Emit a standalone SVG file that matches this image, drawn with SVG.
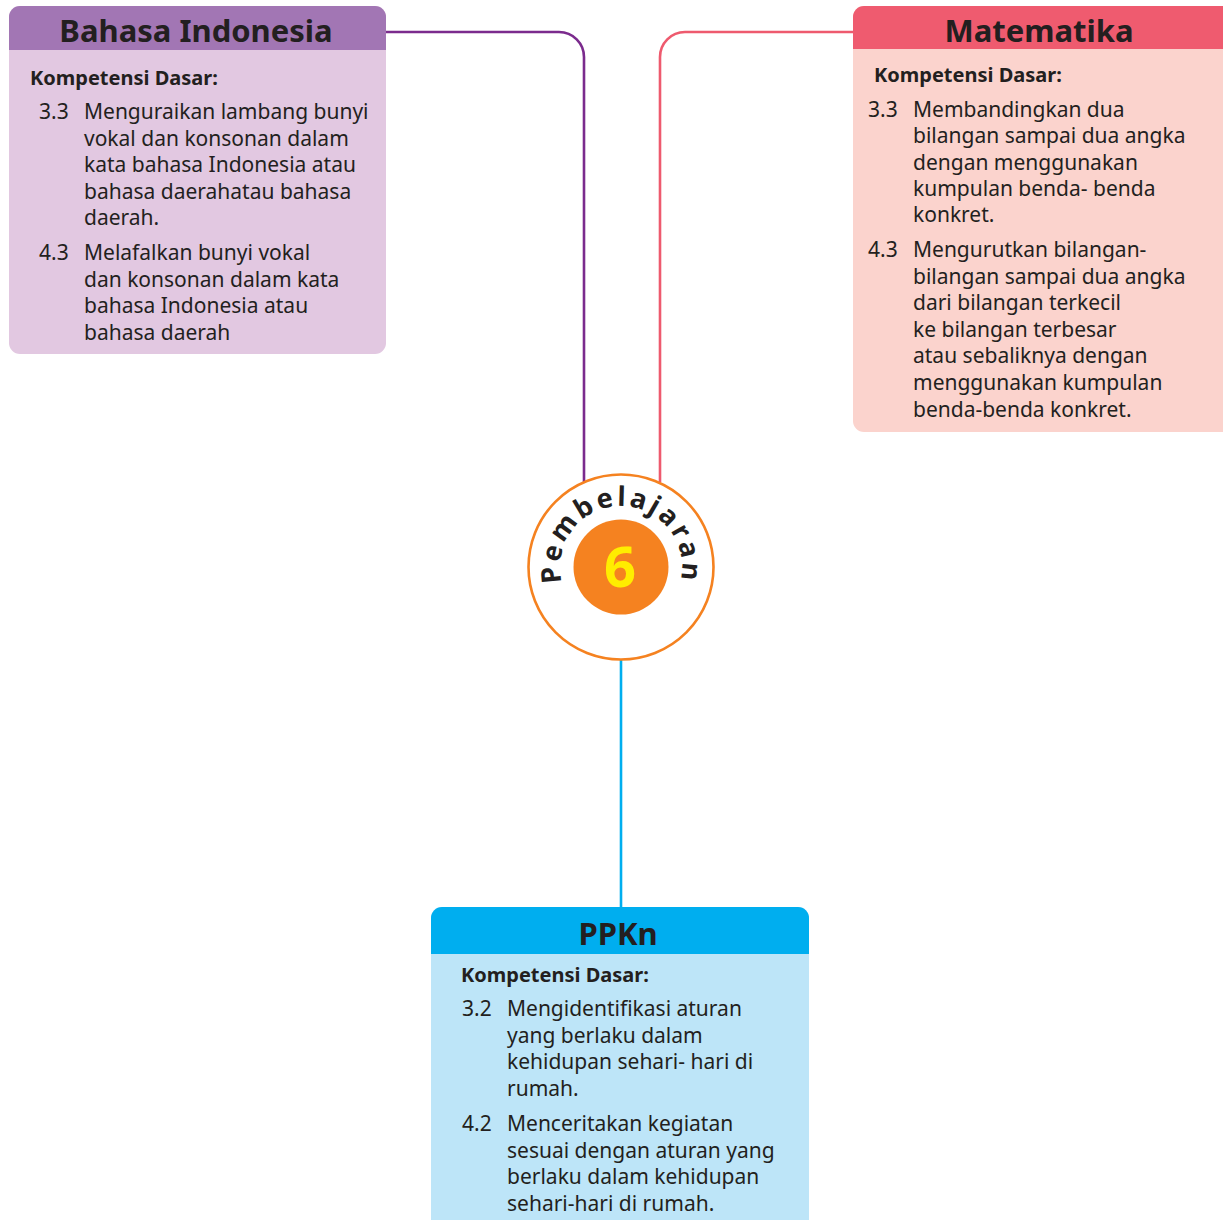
<svg xmlns="http://www.w3.org/2000/svg" width="1223" height="1220" viewBox="0 0 1223 1220">
<style>
.hdr{font-family:"Noto Sans","Open Sans",sans-serif;font-weight:700;font-size:31px;fill:#231F20;text-anchor:middle}
.kd{font-family:"Noto Sans","Open Sans",sans-serif;font-weight:700;font-size:20px;fill:#231F20}
.it{font-family:"Noto Sans","Open Sans",sans-serif;font-size:21px;fill:#231F20}
.conn{fill:none;stroke-width:2.6}
</style>
<defs>
<path id="arc" d="M 563.7 587.9 A 61 61 0 1 1 678.3 587.9"/>
</defs>
<rect width="1223" height="1220" fill="#ffffff"/>

<g id="connectors">
<path class="conn" stroke="#7B2B8D" d="M 386 32 H 559 A 25 25 0 0 1 584 57 V 482"/>
<path class="conn" stroke="#EE5A6E" d="M 853 32 H 685 A 25 25 0 0 0 660 57 V 482"/>
<path class="conn" stroke="#00AEEF" d="M 621 660 V 908"/>
</g>

<g id="bahasa-indonesia">
<rect x="9" y="6" width="377" height="348" rx="11" fill="#E2C8E1"/>
<path d="M 9 50 V 17 A 11 11 0 0 1 20 6 H 375 A 11 11 0 0 1 386 17 V 50 Z" fill="#A276B4"/>
<text class="hdr" x="196" y="42">Bahasa Indonesia</text>
<text class="kd" x="30" y="85">Kompetensi Dasar:</text>
<text class="it" x="39" y="119">3.3</text>
<text class="it" x="84" y="119">Menguraikan lambang bunyi</text>
<text class="it" x="84" y="146">vokal dan konsonan  dalam</text>
<text class="it" x="84" y="172">kata bahasa Indonesia atau</text>
<text class="it" x="84" y="199">bahasa daerahatau bahasa</text>
<text class="it" x="84" y="225">daerah.</text>
<text class="it" x="39" y="260">4.3</text>
<text class="it" x="84" y="260">Melafalkan bunyi vokal</text>
<text class="it" x="84" y="287">dan konsonan dalam kata</text>
<text class="it" x="84" y="313">bahasa Indonesia atau</text>
<text class="it" x="84" y="340">bahasa daerah</text>
</g>

<g id="matematika">
<rect x="853" y="6" width="385" height="426" rx="11" fill="#FBD3CD"/>
<path d="M 853 49 V 17 A 11 11 0 0 1 864 6 H 1238 V 49 Z" fill="#EF5B6F"/>
<text class="hdr" x="1039" y="42">Matematika</text>
<text class="kd" x="874" y="82">Kompetensi Dasar:</text>
<text class="it" x="868" y="117">3.3</text>
<text class="it" x="913" y="117">Membandingkan dua</text>
<text class="it" x="913" y="143">bilangan sampai dua angka</text>
<text class="it" x="913" y="170">dengan menggunakan</text>
<text class="it" x="913" y="196">kumpulan benda- benda</text>
<text class="it" x="913" y="222">konkret.</text>
<text class="it" x="868" y="257">4.3</text>
<text class="it" x="913" y="257">Mengurutkan bilangan-</text>
<text class="it" x="913" y="284">bilangan sampai dua angka</text>
<text class="it" x="913" y="310">dari bilangan terkecil</text>
<text class="it" x="913" y="337">ke bilangan terbesar</text>
<text class="it" x="913" y="363">atau sebaliknya dengan</text>
<text class="it" x="913" y="390">menggunakan kumpulan</text>
<text class="it" x="913" y="417">benda-benda konkret.</text>
</g>

<g id="ppkn">
<rect x="431" y="907" width="378" height="330" rx="11" fill="#BDE5F8"/>
<path d="M 431 954 V 918 A 11 11 0 0 1 442 907 H 798 A 11 11 0 0 1 809 918 V 954 Z" fill="#00AEEF"/>
<text class="hdr" x="618" y="945">PPKn</text>
<text class="kd" x="461" y="982">Kompetensi Dasar:</text>
<text class="it" x="462" y="1016">3.2</text>
<text class="it" x="507" y="1016">Mengidentifikasi aturan</text>
<text class="it" x="507" y="1043">yang berlaku dalam</text>
<text class="it" x="507" y="1069">kehidupan sehari- hari di</text>
<text class="it" x="507" y="1096">rumah.</text>
<text class="it" x="462" y="1131">4.2</text>
<text class="it" x="507" y="1131">Menceritakan kegiatan</text>
<text class="it" x="507" y="1158">sesuai dengan aturan yang</text>
<text class="it" x="507" y="1184">berlaku dalam kehidupan</text>
<text class="it" x="507" y="1211">sehari-hari di rumah.</text>
</g>

<g id="pembelajaran-6">
<circle cx="621" cy="567" r="92.5" fill="#ffffff" stroke="#F58220" stroke-width="2.6"/>
<circle cx="621" cy="567" r="47.5" fill="#F58220"/>
<text font-family="Noto Sans, Open Sans, sans-serif" font-weight="700" font-size="27" fill="#231F20" letter-spacing="3"><textPath href="#arc" startOffset="50%" text-anchor="middle">Pembelajaran</textPath></text>
<text x="620" y="587" font-family="Noto Sans, Open Sans, sans-serif" font-weight="700" font-size="56" fill="#FFED00" text-anchor="middle">6</text>
</g>
</svg>
